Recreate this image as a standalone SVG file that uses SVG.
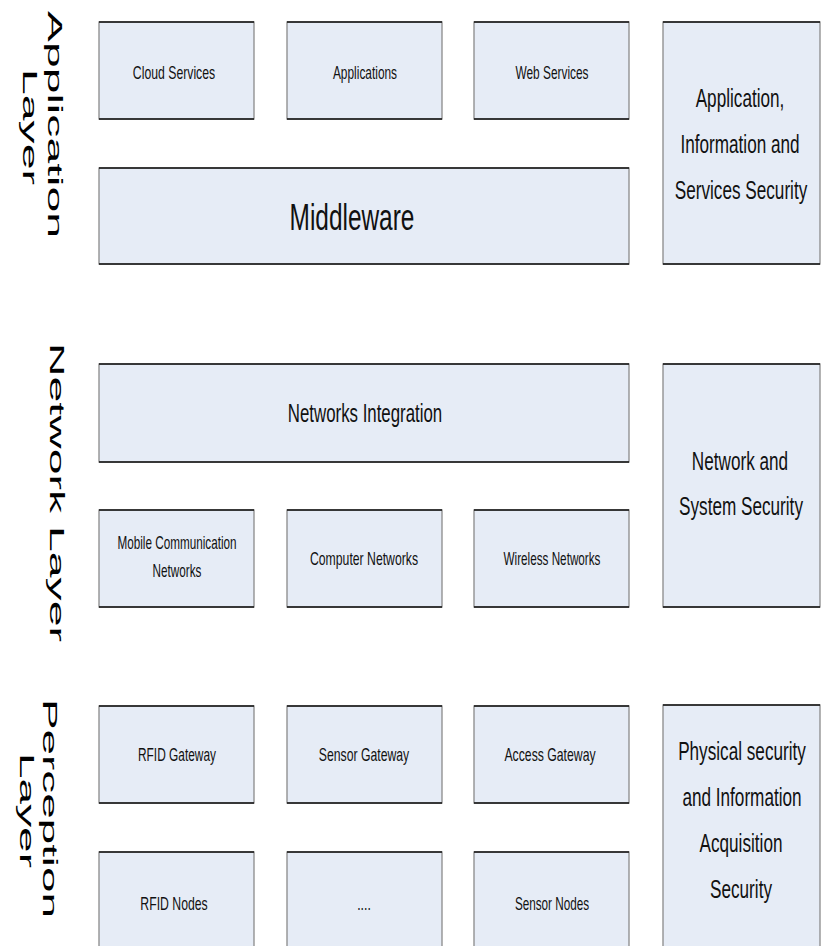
<svg xmlns="http://www.w3.org/2000/svg" width="821" height="946" viewBox="0 0 821 946">
<style>
.box{fill:#e6ecf6;stroke:#8a8a8a;stroke-width:1.3}
.edge{stroke:#111;stroke-width:1.6;fill:none}
.t{font-family:"Liberation Sans",Arial,sans-serif;fill:#111;text-anchor:middle}
.s{font-size:17.5px}
.m{font-size:26px}
.n{font-size:25.5px}
.b{font-size:37px}
.lay{font-family:"Liberation Sans",Arial,sans-serif;font-size:21px;fill:#000}
</style>
<rect width="821" height="946" fill="#fff"/>
<g id="labels">
<text class="lay" transform="translate(48,11) rotate(90)" textLength="227" lengthAdjust="spacingAndGlyphs">Application</text>
<text class="lay" transform="translate(23,69) rotate(90)" textLength="116" lengthAdjust="spacingAndGlyphs">Layer</text>
<text class="lay" transform="translate(50,343) rotate(90)" textLength="299" lengthAdjust="spacingAndGlyphs">Network Layer</text>
<text class="lay" transform="translate(43,699) rotate(90)" textLength="219" lengthAdjust="spacingAndGlyphs">Perception</text>
<text class="lay" transform="translate(20,753) rotate(90)" textLength="115" lengthAdjust="spacingAndGlyphs">Layer</text>
</g>
<g id="cloud"><rect class="box" x="99" y="22" width="155" height="97"/><path class="edge" d="M99 22H254M99 119H254"/><text class="t s" transform="matrix(.7 0 0 1 174 79)">Cloud Services</text></g>
<g id="applications"><rect class="box" x="287" y="22" width="155" height="97"/><path class="edge" d="M287 22H442M287 119H442"/><text class="t s" transform="matrix(.68 0 0 1 365 79)">Applications</text></g>
<g id="web"><rect class="box" x="474" y="22" width="155" height="97"/><path class="edge" d="M474 22H629M474 119H629"/><text class="t s" transform="matrix(.68 0 0 1 552 79)">Web Services</text></g>
<g id="middleware"><rect class="box" x="99" y="168" width="530" height="96"/><path class="edge" d="M99 168H629M99 264H629"/><text class="t b" transform="matrix(.66 0 0 1 352 230)">Middleware</text></g>
<g id="appsec"><rect class="box" x="663" y="22" width="157" height="242"/><path class="edge" d="M663 22H820M663 264H820"/>
<text class="t m" transform="matrix(.66 0 0 1 740 107)">Application,</text>
<text class="t m" transform="matrix(.66 0 0 1 740 153)">Information and</text>
<text class="t m" transform="matrix(.66 0 0 1 741 199)">Services Security</text></g>
<g id="netint"><rect class="box" x="99" y="364" width="530" height="98"/><path class="edge" d="M99 364H629M99 462H629"/><text class="t n" transform="matrix(.66 0 0 1 365 422)">Networks Integration</text></g>
<g id="mobile"><rect class="box" x="99" y="510" width="155" height="97"/><path class="edge" d="M99 510H254M99 607H254"/><text class="t s" transform="matrix(.67 0 0 1 177 549)">Mobile Communication</text><text class="t s" transform="matrix(.67 0 0 1 177 577)">Networks</text></g>
<g id="computer"><rect class="box" x="287" y="510" width="155" height="97"/><path class="edge" d="M287 510H442M287 607H442"/><text class="t s" transform="matrix(.7 0 0 1 364 565)">Computer Networks</text></g>
<g id="wireless"><rect class="box" x="474" y="510" width="155" height="97"/><path class="edge" d="M474 510H629M474 607H629"/><text class="t s" transform="matrix(.67 0 0 1 552 565)">Wireless Networks</text></g>
<g id="netsec"><rect class="box" x="663" y="364" width="157" height="243"/><path class="edge" d="M663 364H820M663 607H820"/>
<text class="t m" transform="matrix(.66 0 0 1 740 470)">Network and</text>
<text class="t m" transform="matrix(.66 0 0 1 741 515)">System Security</text></g>
<g id="rfidgw"><rect class="box" x="99" y="706" width="155" height="97"/><path class="edge" d="M99 706H254M99 803H254"/><text class="t s" transform="matrix(.68 0 0 1 177 761)">RFID Gateway</text></g>
<g id="sensorgw"><rect class="box" x="287" y="706" width="155" height="97"/><path class="edge" d="M287 706H442M287 803H442"/><text class="t s" transform="matrix(.7 0 0 1 364 761)">Sensor Gateway</text></g>
<g id="accessgw"><rect class="box" x="474" y="706" width="155" height="97"/><path class="edge" d="M474 706H629M474 803H629"/><text class="t s" transform="matrix(.7 0 0 1 550 761)">Access Gateway</text></g>
<g id="rfidnodes"><rect class="box" x="99" y="852" width="155" height="100"/><path class="edge" d="M99 852H254"/><text class="t s" transform="matrix(.7 0 0 1 174 910)">RFID Nodes</text></g>
<g id="dots"><rect class="box" x="287" y="852" width="155" height="100"/><path class="edge" d="M287 852H442"/><text class="t s" transform="matrix(.7 0 0 1 364 910)">....</text></g>
<g id="sensornodes"><rect class="box" x="474" y="852" width="155" height="100"/><path class="edge" d="M474 852H629"/><text class="t s" transform="matrix(.67 0 0 1 552 910)">Sensor Nodes</text></g>
<g id="physsec"><rect class="box" x="663" y="705" width="157" height="247"/><path class="edge" d="M663 705H820"/>
<text class="t m" transform="matrix(.66 0 0 1 742 760)">Physical security</text>
<text class="t m" transform="matrix(.66 0 0 1 742 806)">and Information</text>
<text class="t m" transform="matrix(.66 0 0 1 741 852)">Acquisition</text>
<text class="t m" transform="matrix(.66 0 0 1 741 898)">Security</text></g>
<g id="connectors"></g>
</svg>
